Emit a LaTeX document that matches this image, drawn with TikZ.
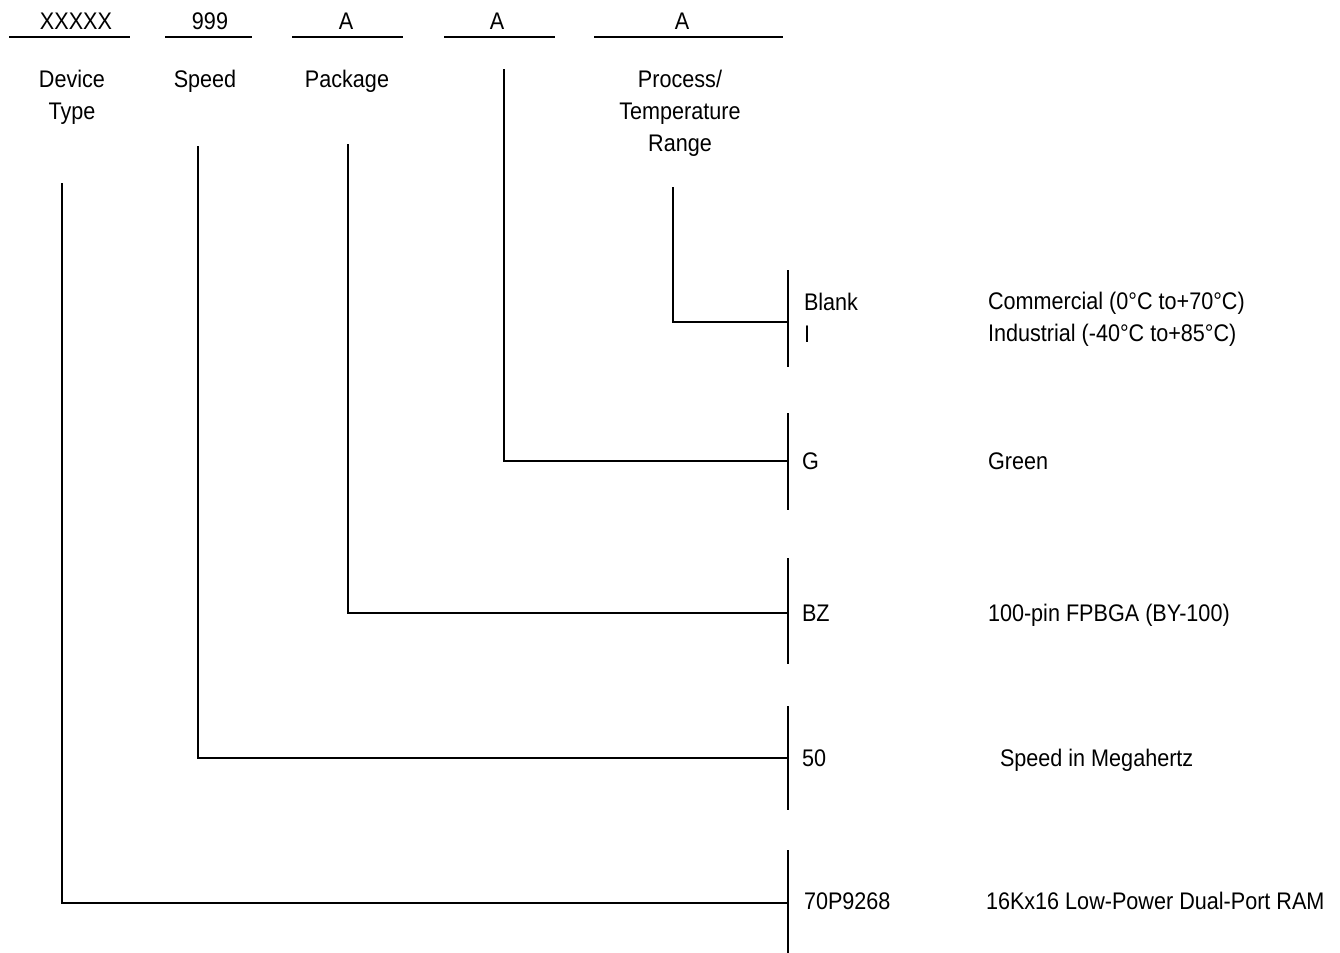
\documentclass[tikz,border=0pt]{standalone}
\usepackage{fontspec}
\setmainfont{Liberation Sans}[FakeStretch=0.9]

\begin{document}
\begin{tikzpicture}[x=0.75pt,y=-0.75pt,line width=1.5pt,
    code/.style={font=\fontsize{18}{21}\selectfont,inner sep=0pt,anchor=base},
    head/.style={font=\fontsize{18}{24}\selectfont,inner sep=0pt,anchor=north,align=center},
    opt/.style={font=\fontsize{18}{24}\selectfont,inner sep=0pt,anchor=base west}]
\useasboundingbox (0,0) rectangle (1340,953);
%----------part number fields-------------------------
\node[code] (cDev) at (76,29) {XXXXX};
\node[code] (cSpd) at (210,29) {999};
\node[code] (cPkg) at (346,29) {A};
\node[code] (cGrn) at (497,29) {A};
\node[code] (cTmp) at (682,29) {A};
\draw (9,37) -- (130,37) (165,37) -- (252,37) (292,37) -- (403,37)
    (444,37) -- (555,37) (594,37) -- (783,37);
%----------field names--------------------------------
\node[head] (hDev) at (72,69) {Device\\Type};
\node[head] (hSpd) at (205,69) {Speed};
\node[head] (hPkg) at (347,69) {Package};
\node[head] (hTmp) at (680,69) {Process/\\Temperature\\Range};
%----------option bars--------------------------------
\coordinate (bTmp) at (788,322);
\coordinate (bGrn) at (788,461);
\coordinate (bPkg) at (788,613);
\coordinate (bSpd) at (788,758);
\coordinate (bDev) at (788,903);
\draw (788,270) -- (788,367) (788,413) -- (788,510) (788,558) -- (788,664)
    (788,706) -- (788,810) (788,850) -- (788,953);
%----------connectors---------------------------------
\coordinate (sDev) at (62,183);
\coordinate (sSpd) at (198,146);
\coordinate (sPkg) at (348,144);
\coordinate (sGrn) at (504,69);
\coordinate (sTmp) at (673,187);
\draw (sTmp) |- (bTmp);
\draw (sGrn) |- (bGrn);
\draw (sPkg) |- (bPkg);
\draw (sSpd) |- (bSpd);
\draw (sDev) |- (bDev);
%----------options and meanings-----------------------
\node[opt] (oBlank) at (803,310) {Blank};
\node[opt] (oI) at (803,342) {I};
\node[opt] (oG) at (801,469) {G};
\node[opt] (oBZ) at (801,621) {BZ};
\node[opt] (o50) at (801,766) {50};
\node[opt] (oDev) at (803,909) {70P9268};
\node[opt] (dCom) at (987,309) {Commercial (0°C to+70°C)};
\node[opt] (dInd) at (987,341) {Industrial (-40°C to+85°C)};
\node[opt] (dGrn) at (987,469) {Green};
\node[opt] (dPkg) at (987,621) {100-pin FPBGA (BY-100)};
\node[opt] (dSpd) at (999,766) {Speed in Megahertz};
\node[opt] (dDev) at (985,909) {16Kx16 Low-Power Dual-Port RAM};
\end{tikzpicture}
\end{document}
